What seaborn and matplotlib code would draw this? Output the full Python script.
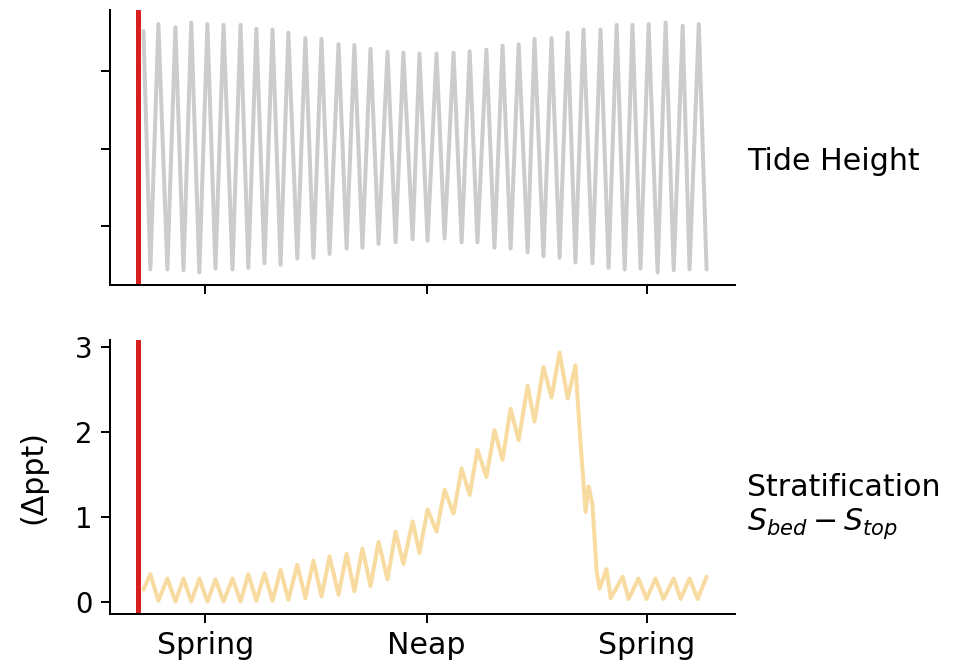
import matplotlib

matplotlib.use("Agg")
import matplotlib.pyplot as plt
import numpy as np
import pandas as pd
import seaborn as sns

# Tide height at each high / low water (days since red marker, m)
tide_days = [0.17, 0.40, 0.67, 0.97, 1.24, 1.51, 1.77, 2.04, 2.31, 2.58, 2.85, 3.15,
             3.42, 3.68, 3.95, 4.22, 4.49, 4.76, 5.02, 5.32, 5.59, 5.86, 6.13, 6.40,
             6.70, 6.97, 7.23, 7.50, 7.77, 8.04, 8.34, 8.61, 8.87, 9.18, 9.41, 9.68,
             9.98, 10.25, 10.55, 10.82, 11.09, 11.35, 11.65, 11.92, 12.19, 12.46, 12.73, 13.03,
             13.26, 13.56, 13.83, 14.10, 14.37, 14.63, 14.90, 15.20, 15.47, 15.74, 16.01, 16.28,
             16.54, 16.81, 17.08, 17.38, 17.65, 17.92, 18.22, 18.45, 18.76, 19.02]
tide_height = [1.52, -1.56, 1.61, -1.56, 1.57, -1.57, 1.63, -1.60, 1.61, -1.55, 1.60, -1.56,
               1.60, -1.54, 1.55, -1.48, 1.54, -1.50, 1.50, -1.42, 1.43, -1.41, 1.42, -1.36,
               1.35, -1.29, 1.34, -1.28, 1.29, -1.23, 1.25, -1.21, 1.24, -1.17, 1.23, -1.19,
               1.23, -1.16, 1.24, -1.21, 1.26, -1.21, 1.28, -1.28, 1.33, -1.29, 1.35, -1.34,
               1.42, -1.39, 1.43, -1.41, 1.50, -1.47, 1.54, -1.48, 1.54, -1.54, 1.60, -1.56,
               1.60, -1.55, 1.61, -1.60, 1.63, -1.57, 1.59, -1.56, 1.61, -1.56]

# Stratification S_bed - S_top (ppt)
strat_days = [0.17, 0.40, 0.67, 0.97, 1.24, 1.51, 1.77, 2.04, 2.31, 2.58, 2.85, 3.15,
              3.42, 3.68, 3.95, 4.22, 4.49, 4.76, 5.02, 5.32, 5.59, 5.86, 6.13, 6.40,
              6.70, 6.97, 7.23, 7.50, 7.77, 8.04, 8.34, 8.61, 8.87, 9.18, 9.41, 9.68,
              9.98, 10.25, 10.55, 10.82, 11.09, 11.35, 11.65, 11.92, 12.19, 12.46, 12.73, 13.03,
              13.26, 13.56, 13.83, 14.10, 14.37, 14.63, 14.80, 14.97, 15.07, 15.20, 15.34, 15.44,
              15.67, 15.81, 16.21, 16.41, 16.74, 17.01, 17.31, 17.58, 17.92, 18.15, 18.45, 18.72,
              19.02]
strat_ppt = [0.15, 0.33, 0.02, 0.28, 0.01, 0.28, 0.01, 0.28, 0.01, 0.27, 0.01, 0.28,
             0.01, 0.33, 0.02, 0.34, 0.02, 0.38, 0.03, 0.44, 0.05, 0.49, 0.07, 0.54,
             0.09, 0.57, 0.13, 0.63, 0.19, 0.71, 0.27, 0.83, 0.45, 0.95, 0.58, 1.09,
             0.83, 1.32, 1.04, 1.57, 1.26, 1.79, 1.47, 2.02, 1.67, 2.27, 1.90, 2.54,
             2.12, 2.76, 2.40, 2.93, 2.39, 2.78, 1.88, 1.06, 1.36, 1.15, 0.36, 0.16,
             0.39, 0.05, 0.30, 0.04, 0.28, 0.04, 0.28, 0.04, 0.28, 0.04, 0.28, 0.04,
             0.30]

phase_ticks = [2.24, 9.65, 17.01]
phase_labels = ["Spring", "Neap", "Spring"]
marker_day = 0.0

tide_df = pd.DataFrame({"day": tide_days, "height": tide_height})
strat_df = pd.DataFrame({"day": strat_days, "strat": strat_ppt})

sns.set_style("ticks", {"axes.edgecolor": "black", "xtick.color": "black",
                        "ytick.color": "black", "text.color": "black",
                        "axes.labelcolor": "black"})
plt.rcParams["font.family"] = ["DejaVu Sans"]
plt.rcParams["font.size"] = 12
plt.rcParams["xtick.labelsize"] = 12
plt.rcParams["ytick.labelsize"] = 11
plt.rcParams["axes.labelsize"] = 12

fig = plt.figure(figsize=(958 / 180, 670 / 180), dpi=180)
ax1 = fig.add_axes([0.1148, 0.5746, 0.6524, 0.4104])
ax2 = fig.add_axes([0.1148, 0.0836, 0.6524, 0.4089])

# shared x range (data plus marker, 5% padding)
lo = min(marker_day, min(tide_days), min(strat_days))
hi = max(max(tide_days), max(strat_days))
pad = 0.05 * (hi - lo)

# Tide height
sns.lineplot(data=tide_df, x="day", y="height", ax=ax1, color="#cccccc", linewidth=1.6)
ax1.axvline(marker_day, color="#d91e1e", linewidth=2)
ax1.set_xlim(lo - pad, hi + pad)
ax1.set_yticks([-1, 0, 1])
ax1.set_yticklabels([])
ax1.set_xticks(phase_ticks)
ax1.set_xticklabels([])
ax1.set_xlabel("")
ax1.set_ylabel("")
ax1.text(1.02, 0.45, "Tide Height", transform=ax1.transAxes, ha="left", va="center")

# Stratification
sns.lineplot(data=strat_df, x="day", y="strat", ax=ax2, color="#f8dba0", linewidth=1.6)
ax2.axvline(marker_day, color="#d91e1e", linewidth=2)
ax2.set_xlim(lo - pad, hi + pad)
ax2.set_yticks([0, 1, 2, 3])
ax2.set_xticks(phase_ticks)
ax2.set_xticklabels(phase_labels)
ax2.set_xlabel("")
ax2.set_ylabel("(Δppt)", labelpad=11)
ax2.text(1.02, 0.39, "Stratification\n$S_{bed} - S_{top}$", transform=ax2.transAxes,
         ha="left", va="center")

sns.despine(fig=fig)

fig.savefig("out.png", dpi=180)
